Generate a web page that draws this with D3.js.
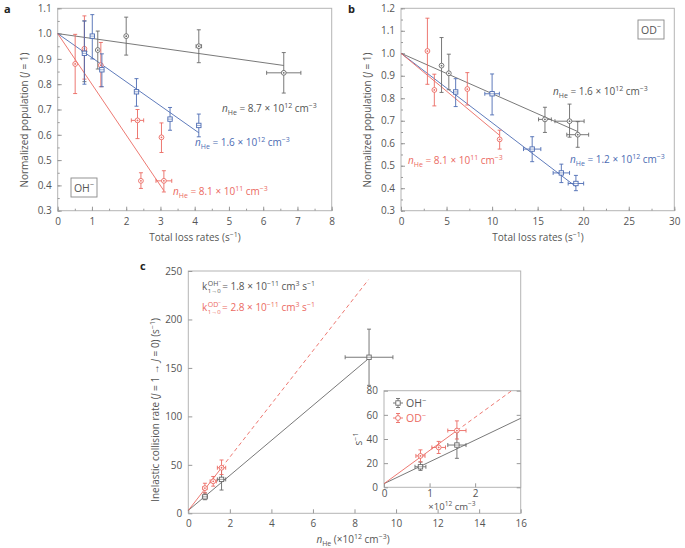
<!DOCTYPE html>
<html><head><meta charset="utf-8">
<script src="https://cdn.jsdelivr.net/npm/d3@7"></script>
<style>
body{margin:0;background:#fff}
svg{display:block}
text{font-family:'Open Sans',sans-serif;fill:#555}
</style></head>
<body><svg id="chart" width="685" height="548"></svg>
<script>
// ---------- DATA ----------
// rows: [x, y, yLow, yHigh, xErr]
const aXTicks = [0,1,2,3,4,5,6,7,8];
const aYTicks = [0.3,0.4,0.5,0.6,0.7,0.8,0.9,1.0,1.1];
const aGray = [[0.78,0.93,0.81,1.05,0],[1.17,0.935,0.86,1.01,0],[2.0,0.99,0.915,1.065,0],[4.12,0.95,0.885,1.015,0.08],[6.6,0.845,0.765,0.925,0.5]];
const aBlue = [[0.78,0.922,0.80,1.05,0],[1.01,0.99,0.90,1.075,0],[1.29,0.857,0.79,0.92,0],[2.3,0.77,0.713,0.822,0],[3.28,0.662,0.618,0.708,0],[4.12,0.637,0.592,0.682,0]];
const aRed = [[0.51,0.88,0.763,0.997,0],[0.78,0.94,0.82,1.07,0],[1.26,0.875,0.79,0.965,0],[2.33,0.657,0.585,0.70,0.18],[3.03,0.59,0.53,0.647,0],[2.43,0.418,0.388,0.45,0],[3.1,0.418,0.374,0.458,0.23]];
const aGrayFit = [[0,1.0],[6.6,0.874]];
const aBlueFit = [[0,1.0],[4.12,0.608]];
const aRedFit = [[0,1.0],[3.1,0.379]];

const bXTicks = [0,5,10,15,20,25,30];
const bYTicks = [0.3,0.4,0.5,0.6,0.7,0.8,0.9,1.0,1.1,1.2];
const bGray = [[4.45,0.945,0.826,1.07,0],[5.25,0.911,0.838,0.996,0],[15.8,0.706,0.648,0.76,0.7],[18.5,0.698,0.627,0.774,1.6],[19.4,0.638,0.582,0.696,1.2]];
const bBlue = [[6.0,0.828,0.763,0.887,0],[10.0,0.82,0.726,0.908,0.8],[14.4,0.574,0.518,0.629,0.95],[17.6,0.468,0.425,0.507,0.9],[19.2,0.421,0.389,0.457,0.85]];
const bRed = [[2.9,1.01,0.862,1.156,0],[3.66,0.837,0.766,0.907,0],[7.28,0.841,0.77,0.914,0],[10.83,0.617,0.574,0.658,0]];
const bGrayFit = [[0,1.0],[19.4,0.652]];
const bBlueFit = [[0,1.0],[19.2,0.407]];
const bRedFit = [[0,1.0],[10.83,0.635]];

const cXTicks = [0,2,4,6,8,10,12,14,16];
const cYTicks = [0,50,100,150,200,250];
const cOH = [[0.8,17,14,21,0.12],[1.6,35,24,46,0.2],[8.7,161,132,190,1.15]];
const cOD = [[0.8,26,21,31,0.1],[1.2,33,28,38,0.15],[1.6,47,40,55,0.2]];
const cOHFit = [[0,3],[8.7,160]];
const cODFitSolid = [[0,3],[1.6,47]];
const cODFitDashed = [[1.6,47],[8.67,241]];
const insetXTicks = [0,1,2];
const insetYTicks = [0,20,40,60,80];
const insetOHFit = [[0,3],[8.7,160]];

// ---------- STYLE ----------
const GRAY = '#6a6a6a', BLUE = '#4d6cb3', RED = '#eb6a62';
const FRAME = '#b4b4b4', TXT = '#555';
const svg = d3.select('#chart');

function rich(parent, x, y, segs, fs, color, anchor, rotate) {
  const t = parent.append('text').attr('x', x).attr('y', y)
    .attr('font-size', fs).style('fill', color).attr('text-anchor', anchor || 'start');
  if (rotate) t.attr('transform', `rotate(${rotate},${x},${y})`);
  let cur = 0;
  segs.forEach(([s, m]) => {
    const target = m === 'sub' ? fs * 0.3 : m === 'sup' ? -fs * 0.4 : 0;
    const sp = t.append('tspan').attr('dy', target - cur)
      .attr('font-size', (m === 'sub' || m === 'sup') ? fs * 0.7 : fs).text(s);
    if (m === 'i') sp.attr('font-style', 'italic');
    cur = target;
  });
  return t;
}

function panel(x, y, xTicks, yTicks, xMinor, yMinor, opts) {
  const g = svg.append('g');
  const [x0, x1] = x.range(), [y0, y1] = y.range();
  g.append('rect').attr('x', x0).attr('y', y1).attr('width', x1 - x0).attr('height', y0 - y1)
    .attr('fill', '#fff').attr('stroke', FRAME).attr('stroke-width', 1);
  const style = a => {
    a.select('.domain').remove();
    a.selectAll('line').attr('stroke', '#999');
    a.selectAll('text').attr('font-size', opts.fs || 10).style('fill', TXT).attr('font-family', "'Open Sans',sans-serif");
  };
  if (xMinor) g.append('g').attr('transform', `translate(0,${y0})`)
    .call(d3.axisBottom(x).tickValues(xMinor).tickSize(-2).tickFormat('')).call(style);
  if (yMinor) g.append('g').attr('transform', `translate(${x0},0)`)
    .call(d3.axisLeft(y).tickValues(yMinor).tickSize(-2).tickFormat('')).call(style);
  g.append('g').attr('transform', `translate(0,${y0})`)
    .call(d3.axisBottom(x).tickValues(xTicks).tickSize(-4).tickPadding(opts.xpad || 7).tickFormat(opts.xf || d3.format('d'))).call(style);
  g.append('g').attr('transform', `translate(${x0},0)`)
    .call(d3.axisLeft(y).tickValues(yTicks).tickSize(-4).tickPadding(opts.ypad || 6).tickFormat(opts.yf || d3.format('d'))).call(style);
  if (opts.right) g.append('g').attr('transform', `translate(${x1},0)`)
    .call(d3.axisRight(y).tickValues(yTicks).tickSize(-4).tickFormat('')).call(style);
  return g;
}

function series(g, x, y, data, color, shape) {
  const s = g.append('g').attr('stroke', color).attr('stroke-width', 0.9).attr('fill', 'none');
  data.forEach(([vx, vy, lo, hi, xe]) => {
    const px = x(vx), py = y(vy);
    s.append('line').attr('x1', px).attr('x2', px).attr('y1', y(lo)).attr('y2', y(hi));
    s.append('line').attr('x1', px - 2).attr('x2', px + 2).attr('y1', y(lo)).attr('y2', y(lo));
    s.append('line').attr('x1', px - 2).attr('x2', px + 2).attr('y1', y(hi)).attr('y2', y(hi));
    if (xe > 0) {
      const xl = x(vx - xe), xr = x(vx + xe);
      s.append('line').attr('x1', xl).attr('x2', xr).attr('y1', py).attr('y2', py);
      s.append('line').attr('x1', xl).attr('x2', xl).attr('y1', py - 2).attr('y2', py + 2);
      s.append('line').attr('x1', xr).attr('x2', xr).attr('y1', py - 2).attr('y2', py + 2);
    }
    if (shape === 'square') {
      s.append('rect').attr('x', px - 2.2).attr('y', py - 2.2).attr('width', 4.4).attr('height', 4.4).attr('fill', '#fff');
      s.append('line').attr('x1', px - 2.2).attr('x2', px + 2.2).attr('y1', py).attr('y2', py).attr('stroke-width', 0.6);
    } else {
      s.append('circle').attr('cx', px).attr('cy', py).attr('r', 2.4).attr('fill', '#fff');
      s.append('circle').attr('cx', px).attr('cy', py).attr('r', 0.9).attr('fill', color).attr('stroke', 'none');
    }
  });
}

function fit(g, x, y, pts, color, dash) {
  const l = d3.line().x(d => x(d[0])).y(d => y(d[1]));
  g.append('path').attr('d', l(pts)).attr('stroke', color).attr('stroke-width', 0.9)
    .attr('fill', 'none').attr('stroke-dasharray', dash || null);
}

const f1 = d3.format('.1f');
const minors = (a, b, st) => d3.range(a, b + st / 2, st);

// ---------- PANEL a ----------
const xa = d3.scaleLinear().domain([0, 8]).range([57.7, 331.7]);
const ya = d3.scaleLinear().domain([0.3, 1.1]).range([210.7, 8.3]);
const ga = panel(xa, ya, aXTicks, aYTicks, minors(0, 8, 0.5), minors(0.3, 1.1, 0.05), {yf: f1});
fit(ga, xa, ya, aGrayFit, GRAY); fit(ga, xa, ya, aBlueFit, BLUE); fit(ga, xa, ya, aRedFit, RED);
series(ga, xa, ya, aGray, GRAY, 'circle');
series(ga, xa, ya, aRed, RED, 'circle');
series(ga, xa, ya, aBlue, BLUE, 'square');
ga.append('rect').attr('x', 71).attr('y', 178).attr('width', 26).attr('height', 19).attr('fill', '#fff').attr('stroke', '#888').attr('stroke-width', 0.9);
rich(ga, 84, 191.5, [['OH', ''], ['−', 'sup']], 10.5, '#555', 'middle');
rich(ga, 222, 112, [['n', 'i'], ['He', 'sub'], [' = 8.7 × 10', ''], ['12', 'sup'], [' cm', ''], ['−3', 'sup']], 10, '#555');
rich(ga, 195, 146, [['n', 'i'], ['He', 'sub'], [' = 1.6 × 10', ''], ['12', 'sup'], [' cm', ''], ['−3', 'sup']], 10, BLUE);
rich(ga, 173, 195, [['n', 'i'], ['He', 'sub'], [' = 8.1 × 10', ''], ['11', 'sup'], [' cm', ''], ['−3', 'sup']], 10, RED);
rich(svg, 195, 241, [['Total loss rates (s', ''], ['−1', 'sup'], [')', '']], 10, TXT, 'middle');
rich(svg, 28, 120, [['Normalized population (', ''], ['J', 'i'], [' = 1)', '']], 10, TXT, 'middle', -90);
svg.append('text').attr('x', 4).attr('y', 13).attr('font-size', 11).attr('font-weight', 'bold').style('fill', '#222').text('a');

// ---------- PANEL b ----------
const xb = d3.scaleLinear().domain([0, 30]).range([401, 674.3]);
const yb = d3.scaleLinear().domain([0.3, 1.2]).range([210.7, 8.3]);
const gb = panel(xb, yb, bXTicks, bYTicks, minors(0, 30, 2.5), minors(0.3, 1.2, 0.05), {yf: f1});
fit(gb, xb, yb, bGrayFit, GRAY); fit(gb, xb, yb, bBlueFit, BLUE); fit(gb, xb, yb, bRedFit, RED);
series(gb, xb, yb, bGray, GRAY, 'circle');
series(gb, xb, yb, bRed, RED, 'circle');
series(gb, xb, yb, bBlue, BLUE, 'square');
gb.append('rect').attr('x', 638).attr('y', 20).attr('width', 26).attr('height', 19).attr('fill', '#fff').attr('stroke', '#888').attr('stroke-width', 0.9);
rich(gb, 651, 33.5, [['OD', ''], ['−', 'sup']], 10.5, '#555', 'middle');
rich(gb, 553, 95, [['n', 'i'], ['He', 'sub'], [' = 1.6 × 10', ''], ['12', 'sup'], [' cm', ''], ['−3', 'sup']], 10, '#555');
rich(gb, 570, 163, [['n', 'i'], ['He', 'sub'], [' = 1.2 × 10', ''], ['12', 'sup'], [' cm', ''], ['−3', 'sup']], 10, BLUE);
rich(gb, 408, 164, [['n', 'i'], ['He', 'sub'], [' = 8.1 × 10', ''], ['11', 'sup'], [' cm', ''], ['−3', 'sup']], 10, RED);
rich(svg, 538, 241, [['Total loss rates (s', ''], ['−1', 'sup'], [')', '']], 10, TXT, 'middle');
rich(svg, 371, 120, [['Normalized population (', ''], ['J', 'i'], [' = 1)', '']], 10, TXT, 'middle', -90);
svg.append('text').attr('x', 348).attr('y', 13).attr('font-size', 11).attr('font-weight', 'bold').style('fill', '#222').text('b');

// ---------- PANEL c ----------
const xc = d3.scaleLinear().domain([0, 16]).range([188.3, 520.7]);
const yc = d3.scaleLinear().domain([0, 250]).range([513.3, 271]);
const gc = panel(xc, yc, cXTicks, cYTicks, null, null, {});
fit(gc, xc, yc, cOHFit, GRAY);
fit(gc, xc, yc, cODFitSolid, RED);
fit(gc, xc, yc, cODFitDashed, RED, '4,3');
series(gc, xc, yc, cOH, GRAY, 'square');
series(gc, xc, yc, cOD, RED, 'circle');
const kx = 202;
function kLabel(y, sup, rest, color) {
  const t = gc.append('text').attr('x', kx).attr('y', y).attr('font-size', 10).style('fill', color).text('k');
  const w = t.node().getComputedTextLength() + 0.5;
  const a = rich(gc, kx + w, y - 4, [[sup, ''], ['−', 'sup']], 7, color);
  rich(gc, kx + w, y + 2.5, [['1→0', '']], 6, color);
  const w2 = a.node().getComputedTextLength();
  rich(gc, kx + w + w2 + 1, y, rest, 10, color);
}
kLabel(290, 'OH', [[' = 1.8 × 10', ''], ['−11', 'sup'], [' cm', ''], ['3', 'sup'], [' s', ''], ['−1', 'sup']], '#555');
kLabel(311, 'OD', [[' = 2.8 × 10', ''], ['−11', 'sup'], [' cm', ''], ['3', 'sup'], [' s', ''], ['−1', 'sup']], RED);
rich(svg, 353, 543, [['n', 'i'], ['He', 'sub'], [' (×10', ''], ['12', 'sup'], [' cm', ''], ['−3', 'sup'], [')', '']], 10, TXT, 'middle');
rich(svg, 159, 410, [['Inelastic collision rate (', ''], ['J', 'i'], [' = 1 → ', ''], ['J', 'i'], [' = 0) (s', ''], ['−1', 'sup'], [')', '']], 10, TXT, 'middle', -90);
svg.append('text').attr('x', 140).attr('y', 270).attr('font-size', 11).attr('font-weight', 'bold').style('fill', '#222').text('c');

// ---------- INSET ----------
const xi = d3.scaleLinear().domain([0, 3]).range([384, 520.7]);
const yi = d3.scaleLinear().domain([0, 80]).range([487.3, 390.7]);
const gi = panel(xi, yi, insetXTicks, insetYTicks, null, null, {right: true, xpad: 3});
svg.append('clipPath').attr('id', 'ic').append('rect')
  .attr('x', 384).attr('y', 390.7).attr('width', 520.7 - 384).attr('height', 487.3 - 390.7);
const gic = gi.append('g').attr('clip-path', 'url(#ic)');
fit(gic, xi, yi, insetOHFit, GRAY);
fit(gic, xi, yi, cODFitSolid, RED);
fit(gic, xi, yi, cODFitDashed, RED, '4,3');
series(gi, xi, yi, cOH.filter(d => d[0] <= 3), GRAY, 'square');
series(gi, xi, yi, cOD, RED, 'circle');
// legend
const legend = [['OH', GRAY, 'square', 403], ['OD', RED, 'circle', 418]];
legend.forEach(([lab, col, shp, ly]) => {
  const lx = 398;
  const lg = gi.append('g').attr('stroke', col).attr('stroke-width', 0.9).attr('fill', 'none');
  lg.append('line').attr('x1', lx - 5).attr('x2', lx + 5).attr('y1', ly).attr('y2', ly);
  lg.append('line').attr('x1', lx).attr('x2', lx).attr('y1', ly - 4.5).attr('y2', ly + 4.5);
  lg.append('line').attr('x1', lx - 2).attr('x2', lx + 2).attr('y1', ly - 4.5).attr('y2', ly - 4.5);
  lg.append('line').attr('x1', lx - 2).attr('x2', lx + 2).attr('y1', ly + 4.5).attr('y2', ly + 4.5);
  if (shp === 'square') lg.append('rect').attr('x', lx - 2.2).attr('y', ly - 2.2).attr('width', 4.4).attr('height', 4.4).attr('fill', '#fff');
  else lg.append('circle').attr('cx', lx).attr('cy', ly).attr('r', 2.4).attr('fill', '#fff');
  rich(gi, lx + 8, ly + 3.8, [[lab, ''], ['−', 'sup']], 10.5, col === GRAY ? '#555' : RED);
});
rich(svg, 452, 509.5, [['×10', ''], ['12', 'sup'], [' cm', ''], ['−3', 'sup']], 9.5, TXT, 'middle');
rich(svg, 362, 439, [['s', ''], ['−1', 'sup']], 10, TXT, 'middle', -90);
</script></body></html>
